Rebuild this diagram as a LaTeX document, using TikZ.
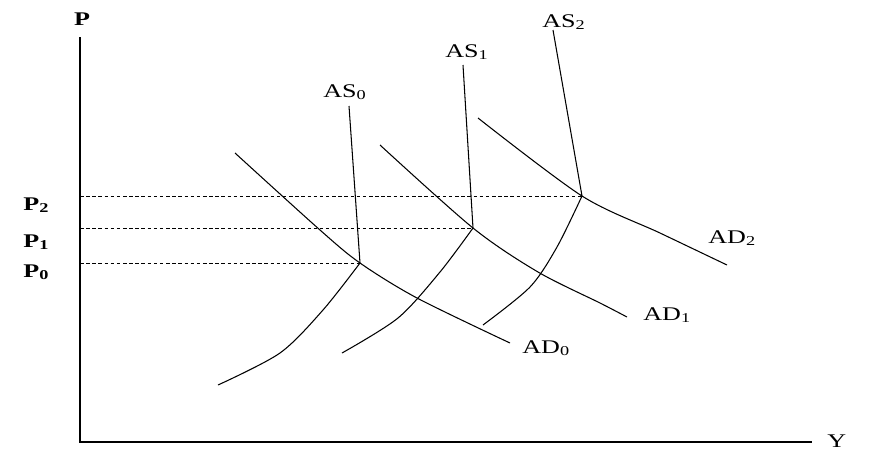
\documentclass[tikz,border=0pt]{standalone}
\usepackage{fontspec}
\setmainfont{Liberation Serif}

\tikzset{
  curve/.style={line width=0.6pt},
  guide/.style={line width=0.5pt, dash pattern=on 2pt off 1.5pt},
  lbl/.style={font=\fontsize{11}{13}\selectfont, inner sep=0pt, anchor=base west},
}
\newcommand{\widetxt}[1]{\scalebox{1.35}[1]{#1}}

\begin{document}
\begin{tikzpicture}[x=0.02cm, y=-0.02cm]
  \useasboundingbox (0,0) rectangle (870,451);

  % Eksenler
  \coordinate (O) at (80,442);
  \coordinate (Ptop) at (80,37);
  \coordinate (Yend) at (812,442);
  \draw[line width=0.8pt] (Ptop) -- (O) -- (Yend);
  \node[lbl, anchor=base] (Plab) at (82,25) {\widetxt{\bfseries P}};
  \node[lbl] (Ylab) at (827,447) {\widetxt{Y}};

  % Denge noktalari
  \coordinate (E0) at (360,263);
  \coordinate (E1) at (473,228);
  \coordinate (E2) at (582,196);

  % Fiyat seviyeleri (kesikli)
  \draw[guide] (Ptop |- E2) -- (E2);
  \draw[guide] (Ptop |- E1) -- (E1);
  \draw[guide] (Ptop |- E0) -- (E0);
  \node[lbl] (P2lab) at (23,210) {\widetxt{\bfseries P\textsubscript{2}}};
  \node[lbl] (P1lab) at (23,247) {\widetxt{\bfseries P\textsubscript{1}}};
  \node[lbl] (P0lab) at (23,277) {\widetxt{\bfseries P\textsubscript{0}}};

  % AS egrileri
  \draw[curve] (349,106) -- (E0);
  \draw[curve] plot[smooth] coordinates {(E0) (323,310) (280,353) (218,385)};
  \draw[curve] (463,65) -- (E1);
  \draw[curve] plot[smooth] coordinates {(E1) (440,272) (398,318) (342,353)};
  \draw[curve] (553,30) -- (E2);
  \draw[curve] plot[smooth] coordinates {(E2) (557,247) (530,287) (483,325)};
  \node[lbl] (AS0lab) at (323,97) {\widetxt{AS\textsubscript{0}}};
  \node[lbl] (AS1lab) at (445,57) {\widetxt{AS\textsubscript{1}}};
  \node[lbl] (AS2lab) at (542,27) {\widetxt{AS\textsubscript{2}}};

  % AD egrileri
  \draw[curve] plot[smooth] coordinates {(235,153) (320,230) (E0) (417,298) (510,343)};
  \draw[curve] plot[smooth] coordinates {(380,145) (E1) (538,272) (600,303) (627,317)};
  \draw[curve] plot[smooth] coordinates {(478,118) (E2) (660,233) (727,265)};
  \node[lbl] (AD0lab) at (522,353) {\widetxt{AD\textsubscript{0}}};
  \node[lbl] (AD1lab) at (643,320) {\widetxt{AD\textsubscript{1}}};
  \node[lbl] (AD2lab) at (708,243) {\widetxt{AD\textsubscript{2}}};
\end{tikzpicture}
\end{document}
